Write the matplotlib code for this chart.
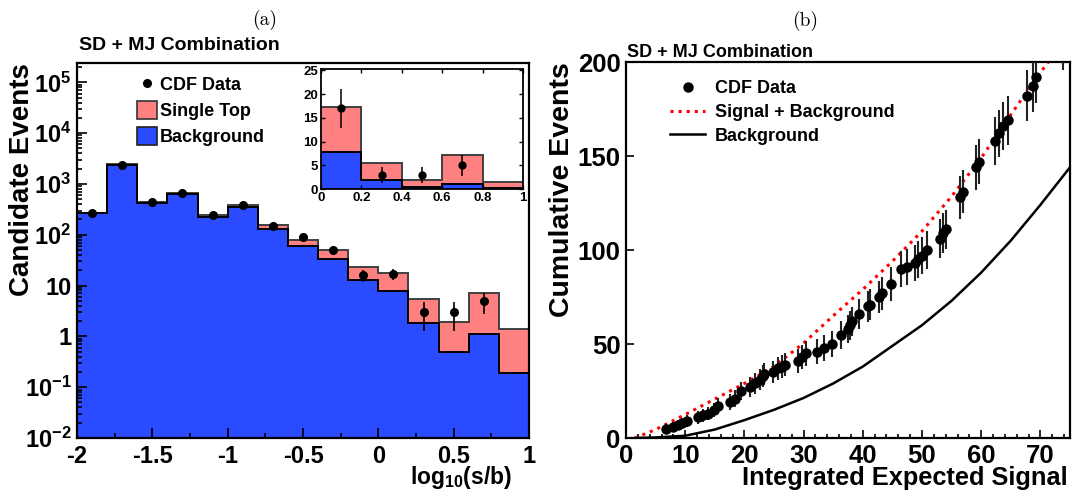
import numpy as np
import matplotlib
matplotlib.use("Agg")
import matplotlib.pyplot as plt
from matplotlib.ticker import MultipleLocator, FuncFormatter, LogLocator, NullFormatter
from matplotlib.lines import Line2D
from matplotlib.patches import Patch

plt.rcParams['font.family'] = ['Liberation Sans', 'DejaVu Sans']
plt.rcParams['font.weight'] = 'bold'
plt.rcParams['mathtext.fontset'] = 'custom'
plt.rcParams['mathtext.rm'] = 'Liberation Sans:bold'
plt.rcParams['mathtext.it'] = 'Liberation Sans:bold'
plt.rcParams['mathtext.bf'] = 'Liberation Sans:bold'
plt.rcParams['mathtext.default'] = 'rm'

# (a) log10(s/b) histogram
bin_edges = [-2.0, -1.8, -1.6, -1.4, -1.2, -1.0, -0.8, -0.6, -0.4, -0.2, 0.0, 0.2, 0.4, 0.6, 0.8, 1.0]
background = [270, 2400, 420, 630, 225, 345, 128, 59, 34, 12.7, 7.8, 1.8, 0.5, 1.1, 0.19]
single_top = [3.4, 48, 13, 32, 18, 43, 26, 19, 17, 10, 9.5, 3.7, 1.4, 6.1, 1.2]
cdf_data = [270, 2400, 440, 660, 245, 380, 148, 89, 49, 16, 17, 3, 3, 5, 0]

# (b) cumulative events vs integrated expected signal
cum_x = [6.8, 8.0, 8.7, 9.4, 10.3, 12.2, 13.0, 13.8, 14.8, 15.6, 17.5, 18.4, 19.5, 20.9,
         21.8, 22.6, 23.1, 23.3, 24.8, 25.6, 26.3, 26.9, 29.0, 29.7, 30.4, 32.3, 33.4,
         34.8, 36.3, 37.5, 37.9, 38.2, 39.4, 40.8, 41.3, 42.7, 43.2, 44.8, 46.5, 47.4,
         48.8, 49.3, 50.0, 50.8, 53.0, 53.6, 54.1, 56.4, 57.0, 59.2, 59.6, 62.4, 63.0,
         63.6, 64.6, 67.7, 68.7, 69.3, 73.9]
cum_n = [5, 6, 7, 8, 9, 11, 12, 13, 15, 17, 19, 21, 25, 27, 29, 31, 33, 34, 35, 37, 38,
         39, 41, 43, 45, 46, 48, 50, 55, 58, 60, 62, 66, 70, 71, 75, 77, 82, 90, 91, 93,
         95, 97, 100, 106, 109, 111, 128, 131, 144, 147, 158, 162, 166, 169, 182, 187,
         192, 210]
curve_x = [1.5, 5, 10, 15, 20, 25, 30, 35, 40, 45, 50, 55, 60, 65, 70, 75]
sig_bkg = [0, 4.5, 12.5, 20.7, 29, 38, 50.5, 65, 79, 94, 110, 128.5, 149, 172, 194.5, 215]
bkg_only = [0, 0.3, 1.2, 4.5, 9.5, 15, 21.3, 29, 38, 49, 60, 73, 88, 105, 124, 144]

red = '#ff8080'
blue = '#2a4bff'

W, H = 1073, 491
fig = plt.figure(figsize=(W / 100, H / 100), dpi=100)
ax1 = fig.add_axes([77 / W, 1 - 438 / H, (529 - 77) / W, (438 - 63) / H])
ax2 = fig.add_axes([626 / W, 1 - 438 / H, (1070 - 626) / W, (438 - 62) / H])
axin = fig.add_axes([321 / W, 1 - 189 / H, (523 - 321) / W, (189 - 69) / H])

edges = np.array(bin_edges)
bkg = np.array(background)
total = bkg + np.array(single_top)
data = np.array(cdf_data, dtype=float)
centers = 0.5 * (edges[:-1] + edges[1:])
has = data > 0


def draw_hist(ax, e, tot, b, base):
    ax.stairs(tot, e, fill=True, baseline=base, color=red, lw=0)
    ax.stairs(tot, e, baseline=None, color='#404040', lw=1.4)
    ax.stairs(b, e, fill=True, baseline=base, color=blue, lw=0)
    ax.stairs(b, e, baseline=None, color='black', lw=1.4)


draw_hist(ax1, edges, total, bkg, 1e-4)
ax1.errorbar(centers[has], data[has], yerr=np.sqrt(data[has]), fmt='o', color='black',
             ms=5.5, elinewidth=1.2, capsize=0, zorder=5)
ax1.set_yscale('log')
ax1.set_xlim(-2, 1)
ax1.set_ylim(1e-2, 2.4e5)


def log_fmt(v, pos):
    e = int(round(np.log10(v)))
    if e == 0:
        return '1'
    if e == 1:
        return '10'
    return '$10^{%d}$' % e


ax1.yaxis.set_major_locator(LogLocator(base=10, numticks=20))
ax1.yaxis.set_minor_locator(LogLocator(base=10, subs=np.arange(2, 10), numticks=20))
ax1.yaxis.set_major_formatter(FuncFormatter(log_fmt))
ax1.yaxis.set_minor_formatter(NullFormatter())
ax1.xaxis.set_major_locator(MultipleLocator(0.5))
ax1.xaxis.set_minor_locator(MultipleLocator(0.25))
ax1.xaxis.set_major_formatter(FuncFormatter(lambda v, p: '%g' % v))
ax1.xaxis.set_minor_formatter(NullFormatter())
ax1.tick_params(which='both', direction='in', width=1.2, labelsize=17)
ax1.tick_params(which='major', length=7)
ax1.tick_params(which='minor', length=3.5)
ax1.tick_params(axis='x', pad=5)
ax1.tick_params(axis='y', pad=4)

# inset, linear scale for log10(s/b) > 0
sel = slice(10, 15)
draw_hist(axin, edges[10:], total[sel], bkg[sel], 0)
ins_has = has[sel]
axin.errorbar(centers[sel][ins_has], data[sel][ins_has], yerr=np.sqrt(data[sel][ins_has]),
              fmt='o', color='black', ms=5, elinewidth=1.1, capsize=0, zorder=5)
axin.set_xlim(0, 1)
axin.set_ylim(0, 25.3)
axin.xaxis.set_major_locator(MultipleLocator(0.2))
axin.yaxis.set_major_locator(MultipleLocator(5))
axin.xaxis.set_major_formatter(FuncFormatter(lambda v, p: '%g' % v))
axin.tick_params(direction='in', labelsize=9.5, length=3, width=1, right=True, top=True, pad=2)
for s in axin.spines.values():
    s.set_linewidth(1.3)

ax1.legend(handles=[Line2D([], [], marker='o', color='black', ls='none', ms=5.5),
                    Patch(facecolor=red, edgecolor='#333333', lw=1.2),
                    Patch(facecolor=blue, edgecolor='#222222', lw=1.2)],
           labels=['CDF Data', 'Single Top', 'Background'],
           loc='upper left', bbox_to_anchor=(0.133, 0.968), frameon=False, fontsize=13,
           handlelength=1.1, handleheight=1.15, handletextpad=0.15, labelspacing=0.38,
           borderpad=0, borderaxespad=0)

# (b) cumulative plot
n = np.array(cum_n, dtype=float)
ax2.plot(curve_x, bkg_only, color='black', lw=1.8)
ax2.plot(curve_x, sig_bkg, color='red', lw=2.2, ls=':')
ax2.errorbar(cum_x, n, yerr=np.sqrt(n), fmt='o', color='black', ecolor='#222222',
             ms=6.5, elinewidth=1.5, capsize=0, zorder=5)
ax2.set_xlim(0, 75)
ax2.set_ylim(0, 200)
ax2.xaxis.set_major_locator(MultipleLocator(10))
ax2.xaxis.set_minor_locator(MultipleLocator(2))
ax2.yaxis.set_major_locator(MultipleLocator(50))
ax2.tick_params(which='both', direction='in', width=1.2, labelsize=18.5)
ax2.tick_params(which='major', length=6)
ax2.tick_params(which='minor', length=3)
ax2.tick_params(axis='x', pad=4)
ax2.tick_params(axis='y', pad=4)

ax2.legend(handles=[Line2D([], [], marker='o', color='black', ls='none', ms=6.5),
                    Line2D([], [], color='red', lw=2.2, ls=':'),
                    Line2D([], [], color='black', lw=1.8)],
           labels=['CDF Data', 'Signal + Background', 'Background'],
           loc='upper left', bbox_to_anchor=(0.099, 0.952), frameon=False, fontsize=13,
           handlelength=1.95, handletextpad=0.55, labelspacing=0.38,
           borderpad=0, borderaxespad=0)

for ax in (ax1, ax2):
    for s in ax.spines.values():
        s.set_linewidth(1.6)

fig.text(79 / W, 1 - 50 / H, 'SD + MJ Combination', fontsize=14, ha='left', va='baseline')
fig.text(627 / W, 1 - 57 / H, 'SD + MJ Combination', fontsize=13, ha='left', va='baseline')
fig.text(265 / W, 1 - 20 / H, '(a)', family='cmr10', fontweight='normal', fontsize=14,
         ha='center', va='center')
fig.text(805 / W, 1 - 21 / H, '(b)', family='cmr10', fontweight='normal', fontsize=14,
         ha='center', va='center')

fig.text(22 / W, 1 - 63 / H, 'Candidate Events', fontsize=20, rotation=90,
         ha='center', va='top')
fig.text(562 / W, 1 - 62 / H, 'Cumulative Events', fontsize=20.5, rotation=90,
         ha='center', va='top')
fig.text(512 / W, 1 - 484 / H, 'log$_{10}$(s/b)', fontsize=16.5, ha='right', va='baseline')
fig.text(1068 / W, 1 - 485 / H, 'Integrated Expected Signal', fontsize=18.3,
         ha='right', va='baseline')

fig.savefig('out.png', dpi=100)
